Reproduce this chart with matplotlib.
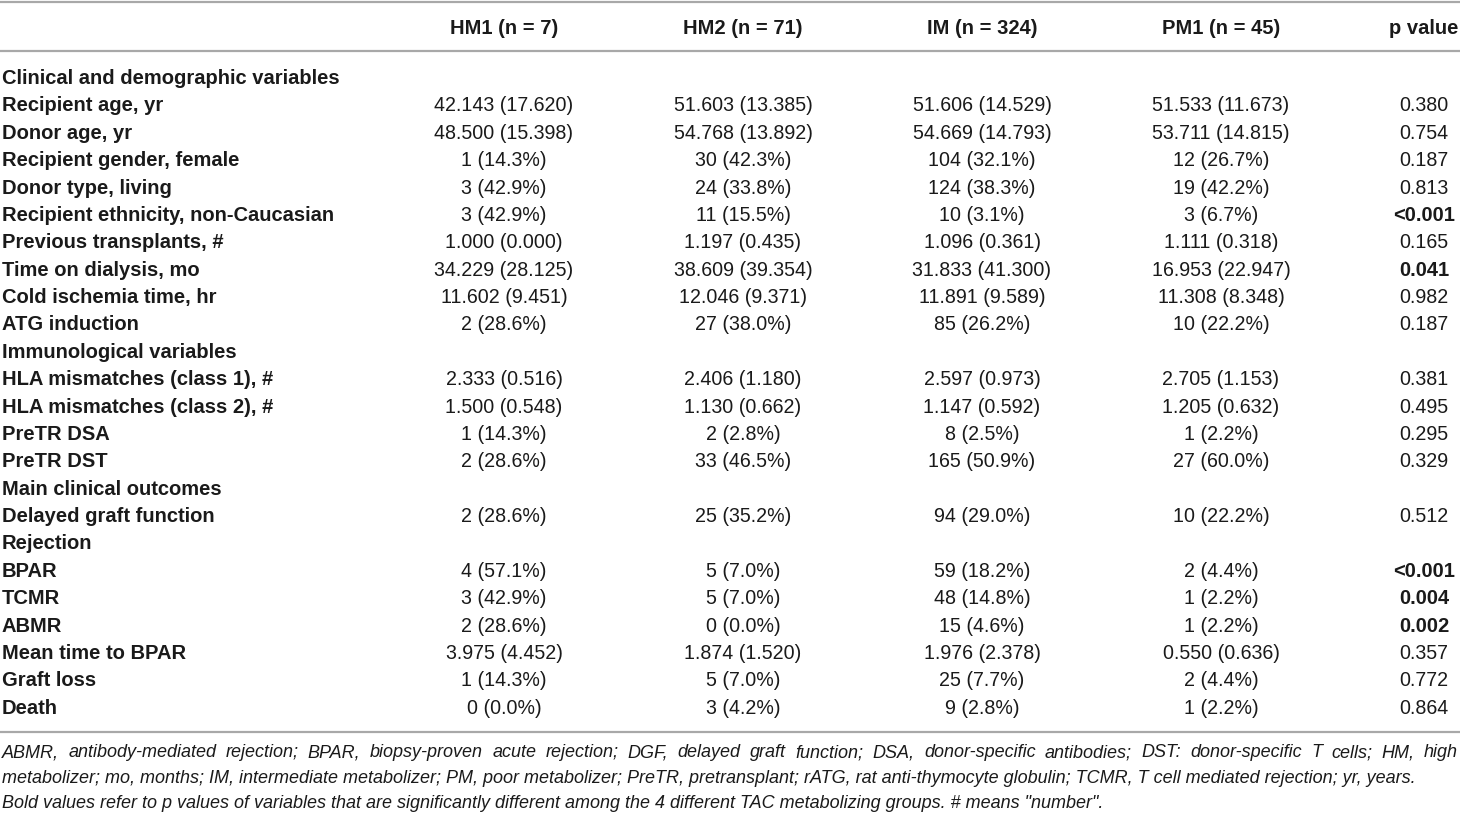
import matplotlib
matplotlib.use("Agg")
import matplotlib.pyplot as plt

# Table contents
headers = ["HM1 (n = 7)", "HM2 (n = 71)", "IM (n = 324)", "PM1 (n = 45)", "p value"]

labels = [
    "Clinical and demographic variables",
    "Recipient age, yr",
    "Donor age, yr",
    "Recipient gender, female",
    "Donor type, living",
    "Recipient ethnicity, non-Caucasian",
    "Previous transplants, #",
    "Time on dialysis, mo",
    "Cold ischemia time, hr",
    "ATG induction",
    "Immunological variables",
    "HLA mismatches (class 1), #",
    "HLA mismatches (class 2), #",
    "PreTR DSA",
    "PreTR DST",
    "Main clinical outcomes",
    "Delayed graft function",
    "Rejection",
    "BPAR",
    "TCMR",
    "ABMR",
    "Mean time to BPAR",
    "Graft loss",
    "Death",
]

hm1 = ["", "42.143 (17.620)", "48.500 (15.398)", "1 (14.3%)", "3 (42.9%)", "3 (42.9%)",
       "1.000 (0.000)", "34.229 (28.125)", "11.602 (9.451)", "2 (28.6%)", "",
       "2.333 (0.516)", "1.500 (0.548)", "1 (14.3%)", "2 (28.6%)", "", "2 (28.6%)", "",
       "4 (57.1%)", "3 (42.9%)", "2 (28.6%)", "3.975 (4.452)", "1 (14.3%)", "0 (0.0%)"]
hm2 = ["", "51.603 (13.385)", "54.768 (13.892)", "30 (42.3%)", "24 (33.8%)", "11 (15.5%)",
       "1.197 (0.435)", "38.609 (39.354)", "12.046 (9.371)", "27 (38.0%)", "",
       "2.406 (1.180)", "1.130 (0.662)", "2 (2.8%)", "33 (46.5%)", "", "25 (35.2%)", "",
       "5 (7.0%)", "5 (7.0%)", "0 (0.0%)", "1.874 (1.520)", "5 (7.0%)", "3 (4.2%)"]
im = ["", "51.606 (14.529)", "54.669 (14.793)", "104 (32.1%)", "124 (38.3%)", "10 (3.1%)",
      "1.096 (0.361)", "31.833 (41.300)", "11.891 (9.589)", "85 (26.2%)", "",
      "2.597 (0.973)", "1.147 (0.592)", "8 (2.5%)", "165 (50.9%)", "", "94 (29.0%)", "",
      "59 (18.2%)", "48 (14.8%)", "15 (4.6%)", "1.976 (2.378)", "25 (7.7%)", "9 (2.8%)"]
pm1 = ["", "51.533 (11.673)", "53.711 (14.815)", "12 (26.7%)", "19 (42.2%)", "3 (6.7%)",
       "1.111 (0.318)", "16.953 (22.947)", "11.308 (8.348)", "10 (22.2%)", "",
       "2.705 (1.153)", "1.205 (0.632)", "1 (2.2%)", "27 (60.0%)", "", "10 (22.2%)", "",
       "2 (4.4%)", "1 (2.2%)", "1 (2.2%)", "0.550 (0.636)", "2 (4.4%)", "1 (2.2%)"]
pvals = ["", "0.380", "0.754", "0.187", "0.813", "<0.001", "0.165", "0.041", "0.982", "0.187", "",
         "0.381", "0.495", "0.295", "0.329", "", "0.512", "", "<0.001", "0.004", "0.002",
         "0.357", "0.772", "0.864"]
bold_p = ["<0.001", "0.041", "0.004", "0.002"]

footnote1 = ("ABMR, antibody-mediated rejection; BPAR, biopsy-proven acute rejection; DGF, delayed "
             "graft function; DSA, donor-specific antibodies; DST: donor-specific T cells; HM, high")
footnote2 = ("metabolizer; mo, months; IM, intermediate metabolizer; PM, poor metabolizer; PreTR, "
             "pretransplant; rATG, rat anti-thymocyte globulin; TCMR, T cell mediated rejection; yr, years.")
footnote3 = ("Bold values refer to p values of variables that are significantly different among "
             "the 4 different TAC metabolizing groups. # means \"number\".")

W, H = 1460, 814
fig = plt.figure(figsize=(W / 100, H / 100), dpi=100)
ax = fig.add_axes([0, 0, 1, 1])
ax.set_xlim(0, W)
ax.set_ylim(H, 0)
ax.axis("off")

plt.rcParams["font.family"] = ["Liberation Sans", "DejaVu Sans"]
fs = 14.1       # regular cells
fs_b = 14.5     # bold text
txt_col = "#1a1a1a"
line_col = "#a8a8a8"

# horizontal rules
for y in (2, 50.5, 732):
    ax.plot([0, W], [y, y], color=line_col, lw=1.6, solid_capstyle="butt")

col_x = [504, 743, 982, 1221, 1424]
for x, h in zip(col_x, headers):
    ax.text(x, 28.5, h, ha="center", va="center", fontsize=fs_b, fontweight="bold", color=txt_col)

y0, dy = 78.5, 27.38
for i, lab in enumerate(labels):
    y = y0 + i * dy
    ax.text(2, y, lab, ha="left", va="center", fontsize=fs_b, fontweight="bold", color=txt_col)
    for x, col in zip(col_x[:4], (hm1, hm2, im, pm1)):
        ax.text(x, y, col[i], ha="center", va="center", fontsize=fs, color=txt_col)
    pw = "bold" if pvals[i] in bold_p else "normal"
    pf = fs_b if pvals[i] in bold_p else fs
    ax.text(col_x[4], y, pvals[i], ha="center", va="center", fontsize=pf, fontweight=pw, color=txt_col)

# footnote, first line justified to full width (baseline aligned)
fn_fs = 13.0
fn_base = [757, 783, 807.5]
renderer = fig.canvas.get_renderer()
words = footnote1.split(" ")
widths = []
for w in words:
    t = ax.text(0, 0, w, fontsize=fn_fs, style="italic")
    bb = t.get_window_extent(renderer)
    widths.append(bb.width)
    t.remove()
left, right = 2, 1458
gap = (right - left - sum(widths)) / (len(words) - 1)
x = left
for w, wd in zip(words, widths):
    ax.text(x, fn_base[0], w, ha="left", va="baseline", fontsize=fn_fs, style="italic", color=txt_col)
    x += wd + gap

ax.text(2, fn_base[1], footnote2, ha="left", va="baseline", fontsize=fn_fs, style="italic", color=txt_col)
ax.text(2, fn_base[2], footnote3, ha="left", va="baseline", fontsize=fn_fs, style="italic", color=txt_col)

fig.savefig("out.png", dpi=100)
